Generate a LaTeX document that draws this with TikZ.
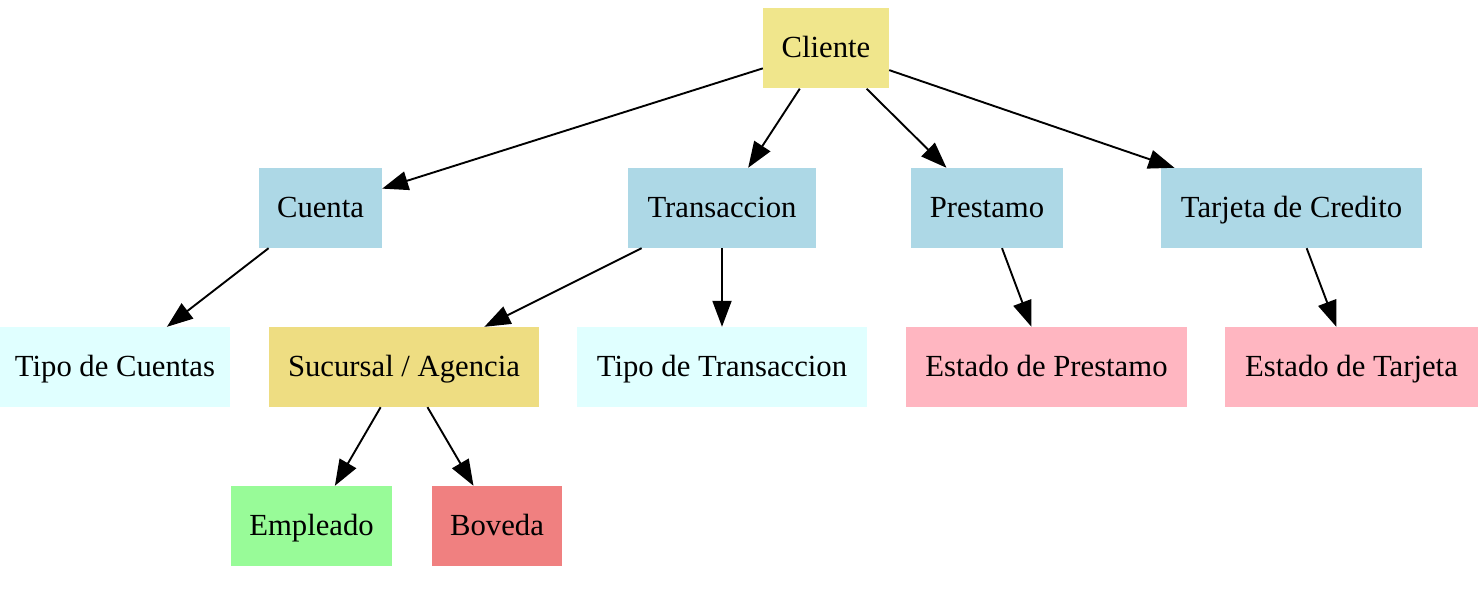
\documentclass[tikz,border=0pt]{standalone}
\usepackage{fontspec}
\setmainfont{Liberation Serif}
\usetikzlibrary{arrows.meta}
\definecolor{khaki}{HTML}{F0E68C}
\definecolor{lblue}{HTML}{ADD8E6}
\definecolor{lcyan}{HTML}{E0FFFF}
\definecolor{lgold}{HTML}{EEDD82}
\definecolor{lpink}{HTML}{FFB6C1}
\definecolor{pgreen}{HTML}{98FB98}
\definecolor{lcoral}{HTML}{F08080}
\tikzset{
  box/.style={rectangle, inner sep=0pt, minimum height=80pt, text height=24pt, text depth=6pt,
    font=\fontsize{30.7}{36}\selectfont, text=black},
  conn/.style={line width=1.9pt, -{Triangle[length=26pt,width=19pt]}}
}
\begin{document}
\begin{tikzpicture}[x=1pt,y=-1pt]
\useasboundingbox (0,0) rectangle (1478,591);
\node[box, fill=khaki, minimum width=126pt] (cli) at (826,48.5) {Cliente};
\node[box, fill=lblue, minimum width=123pt] (cue) at (320.5,208) {Cuenta};
\node[box, fill=lblue, minimum width=188pt] (tra) at (722,208) {Transaccion};
\node[box, fill=lblue, minimum width=152pt] (pre) at (987,208) {Prestamo};
\node[box, fill=lblue, minimum width=261pt] (tar) at (1291.5,208) {Tarjeta de Credito};
\node[box, fill=lcyan, minimum width=230pt] (tcu) at (115,367) {Tipo de Cuentas};
\node[box, fill=lgold, minimum width=270pt] (suc) at (404,367) {Sucursal / Agencia};
\node[box, fill=lcyan, minimum width=290pt] (ttr) at (722,367) {Tipo de Transaccion};
\node[box, fill=lpink, minimum width=281pt] (epr) at (1046.5,367) {Estado de Prestamo};
\node[box, fill=lpink, minimum width=253pt] (eta) at (1351.5,367) {Estado de Tarjeta};
\node[box, fill=pgreen, minimum width=161pt] (emp) at (311.5,526) {Empleado};
\node[box, fill=lcoral, minimum width=130pt] (bov) at (497,526) {Boveda};
\draw[conn] (cli) -- (cue);
\draw[conn] (cli) -- (tra);
\draw[conn] (cli) -- (pre);
\draw[conn] (cli) -- (tar);
\draw[conn] (cue) -- (tcu);
\draw[conn] (tra) -- (suc);
\draw[conn] (tra) -- (ttr);
\draw[conn] (pre) -- (epr);
\draw[conn] (tar) -- (eta);
\draw[conn] (suc) -- (emp);
\draw[conn] (suc) -- (bov);
\end{tikzpicture}
\end{document}
